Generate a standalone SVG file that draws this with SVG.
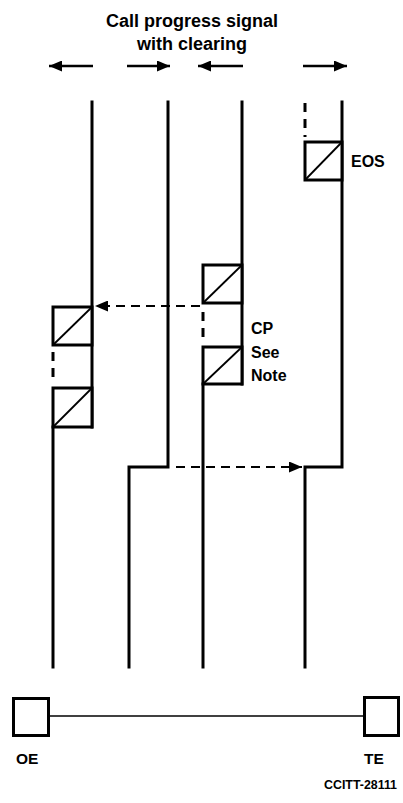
<svg xmlns="http://www.w3.org/2000/svg" width="403" height="803" viewBox="0 0 403 803">
<style>
.t{font-family:"Liberation Sans",Arial,sans-serif;font-weight:bold;fill:#000}
.ln{stroke:#000;stroke-width:3;fill:none;stroke-linecap:square}
.bx{stroke:#000;stroke-width:3;fill:#fff}
.dg{stroke:#000;stroke-width:1.8}
.ds{stroke:#000;stroke-width:3;stroke-dasharray:9 7;fill:none}
.da{stroke:#000;stroke-width:2;stroke-dasharray:9 6;fill:none}
.ar{stroke:#000;stroke-width:2.4;fill:none}
</style>
<defs>
<marker id="ah" viewBox="0 0 13 11" refX="13" refY="5.5" markerWidth="13" markerHeight="11" markerUnits="userSpaceOnUse" orient="auto">
<path d="M0,0 L13,5.5 L0,11 Z" fill="#000"/>
</marker>
</defs>
<g id="title">
<text class="t" x="192" y="27" font-size="18" text-anchor="middle">Call progress signal</text>
<text class="t" x="192" y="50" font-size="18" text-anchor="middle">with clearing</text>
</g>
<g id="direction-arrows">
<line class="ar" x1="93" y1="66" x2="49" y2="66" marker-end="url(#ah)"/>
<line class="ar" x1="127" y1="66" x2="170" y2="66" marker-end="url(#ah)"/>
<line class="ar" x1="243" y1="66" x2="198" y2="66" marker-end="url(#ah)"/>
<line class="ar" x1="303" y1="66" x2="347" y2="66" marker-end="url(#ah)"/>
</g>
<g id="connectors">
<line class="da" x1="200" y1="306" x2="95" y2="306" marker-end="url(#ah)"/>
<line class="da" x1="176" y1="467" x2="302" y2="467" marker-end="url(#ah)"/>
</g>
<g id="line-oe">
<path class="ln" d="M92,102 V427"/>
<path class="ln" d="M53,427 V667"/>
<line class="ds" x1="53" y1="352" x2="53" y2="384"/>
</g>
<g id="cp-box-1">
<rect class="bx" x="53" y="307" width="39" height="38"/>
<line class="dg" x1="53" y1="345" x2="92" y2="307"/>
</g>
<g id="cp-box-2">
<rect class="bx" x="53" y="388" width="39" height="39"/>
<line class="dg" x1="53" y1="427" x2="92" y2="388"/>
</g>
<g id="line-2">
<path class="ln" d="M168,102 V467 H129 V667"/>
</g>
<g id="line-3">
<path class="ln" d="M242,102 V384"/>
<path class="ln" d="M203,384 V667"/>
<line class="ds" x1="203" y1="312" x2="203" y2="340"/>
</g>
<g id="cp-box-3">
<rect class="bx" x="203" y="265" width="39" height="38"/>
<line class="dg" x1="203" y1="303" x2="242" y2="265"/>
</g>
<g id="cp-box-4">
<rect class="bx" x="203" y="347" width="39" height="37"/>
<line class="dg" x1="203" y1="384" x2="242" y2="347"/>
</g>
<g id="cp-label">
<text class="t" x="251" y="334" font-size="16">CP</text>
<text class="t" x="251" y="358" font-size="16">See</text>
<text class="t" x="251" y="381" font-size="16">Note</text>
</g>
<g id="line-5">
<path class="ln" d="M342,102 V467 H305 V667"/>
<line class="ds" x1="305" y1="103" x2="305" y2="137" stroke-dasharray="10 7"/>
</g>
<g id="eos-box">
<rect class="bx" x="305" y="142" width="37" height="38"/>
<line class="dg" x1="305" y1="180" x2="342" y2="142"/>
<text class="t" x="351" y="167" font-size="16">EOS</text>
</g>
<g id="link">
<line x1="50" y1="716" x2="363" y2="716" stroke="#000" stroke-width="1.6"/>
</g>
<g id="oe">
<rect class="bx" x="13.5" y="698.5" width="35" height="37"/>
<text class="t" x="16" y="764" font-size="15.5">OE</text>
</g>
<g id="te">
<rect class="bx" x="364.5" y="697.5" width="34" height="38"/>
<text class="t" x="364" y="764" font-size="15.5">TE</text>
</g>
<g id="ref">
<text class="t" x="324" y="789" font-size="12.5" textLength="73" lengthAdjust="spacingAndGlyphs">CCITT-28111</text>
</g>
</svg>
